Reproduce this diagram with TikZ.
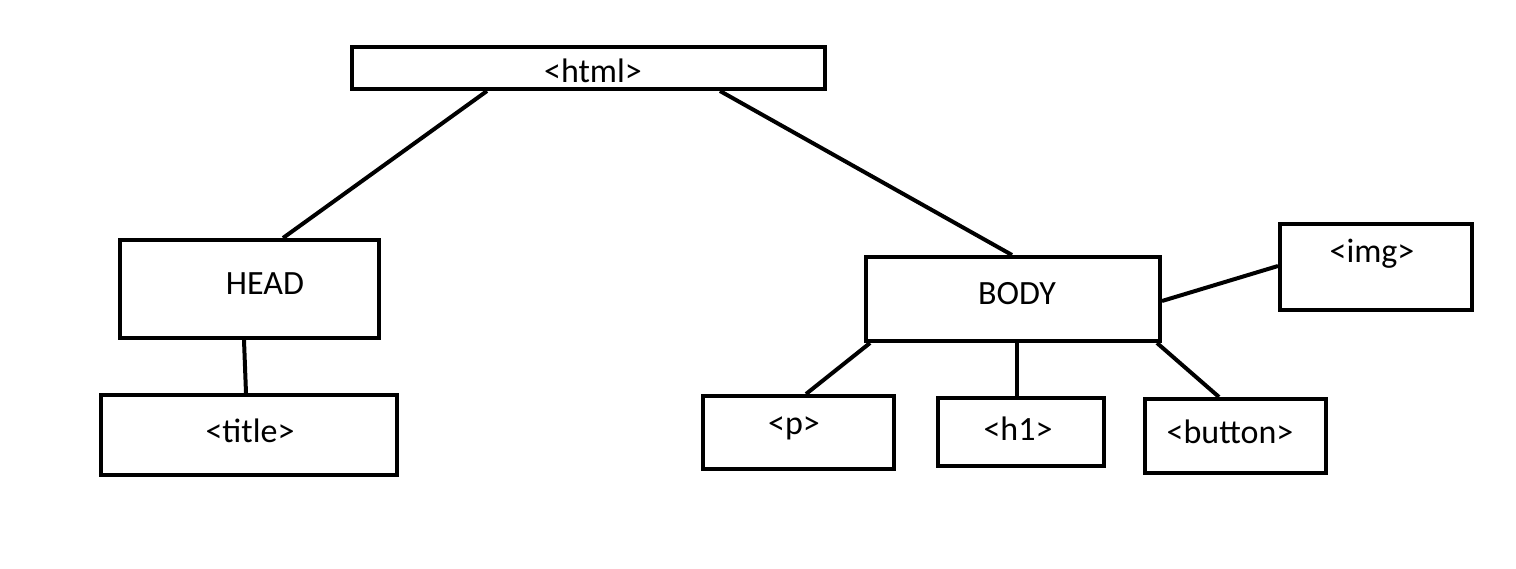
\documentclass[tikz,border=0pt]{standalone}
\usepackage{fontspec}
\setmainfont{Carlito}
\begin{document}
\begin{tikzpicture}[x=1pt,y=-1pt,
  box/.style={draw, line width=4pt, inner sep=0pt},
  lbl/.style={anchor=base, inner sep=0pt, font=\fontsize{34}{40}\selectfont},
  link/.style={line width=4pt}]
\useasboundingbox (0,0) rectangle (1516,569);
\fill[white] (0,0) rectangle (1516,569);
% boxes
\node[box, minimum width=473pt, minimum height=42pt] (html) at (588.5,68) {};
\node[box, minimum width=259pt, minimum height=98pt] (head) at (249.5,289) {};
\node[box, minimum width=296pt, minimum height=80pt] (title) at (249,435) {};
\node[box, minimum width=294pt, minimum height=84pt] (body) at (1013,299) {};
\node[box, minimum width=192pt, minimum height=86pt] (img) at (1376,267) {};
\node[box, minimum width=191pt, minimum height=73pt] (p) at (798.5,432.5) {};
\node[box, minimum width=166pt, minimum height=68pt] (h1) at (1021,432) {};
\node[box, minimum width=181pt, minimum height=74pt] (button) at (1235.5,436) {};
% labels
\node[lbl] (thtml) at (593,83) {<html>};
\node[lbl] (thead) at (265,295) {HEAD};
\node[lbl] (ttitle) at (250,442) {<title>};
\node[lbl] (tbody) at (1017,305) {BODY};
\node[lbl] (timg) at (1372,263) {<img>};
\node[lbl] (tp) at (794,434) {<p>};
\node[lbl] (th1) at (1018,440) {<h1>};
\node[lbl] (tbutton) at (1230,443) {<button>};
% connectors
\draw[link] ([xshift=-101.5pt]html.south) -- ([xshift=33.5pt]head.north);
\draw[link] ([xshift=131.5pt]html.south) -- ([xshift=-1pt]body.north);
\draw[link] ([xshift=-5.5pt]head.south) -- ([xshift=-3pt]title.north);
\draw[link] ([yshift=-2pt]body.east) -- ([yshift=1pt]img.west);
\draw[link] ([xshift=6pt]body.south west) -- ([xshift=7.5pt]p.north);
\draw[link] ([xshift=4pt]body.south) -- ([xshift=-4pt]h1.north);
\draw[link] ([xshift=-5pt]body.south east) -- ([xshift=-16.5pt]button.north);
\end{tikzpicture}
\end{document}
